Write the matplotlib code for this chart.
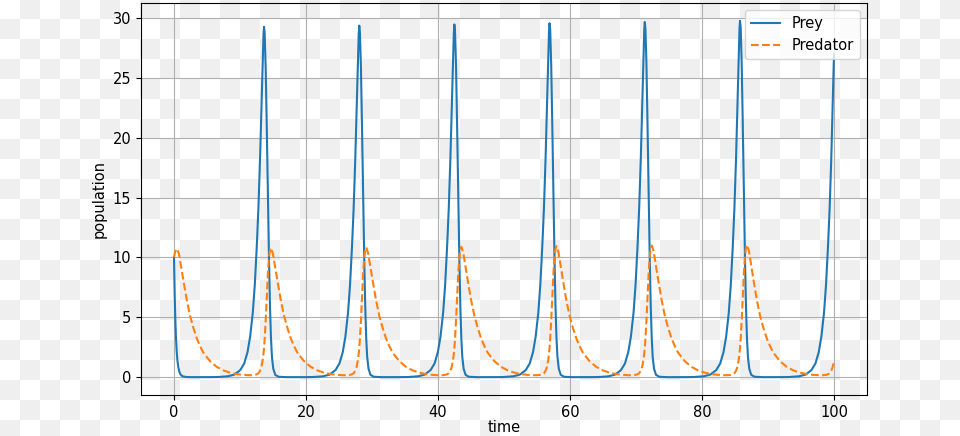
import numpy as np
import matplotlib
matplotlib.use("Agg")
import matplotlib.pyplot as plt

# values (prey / predator populations vs time)
prey_t = [
    0, 0.1, 0.2, 0.3, 0.4, 0.5, 0.65, 0.8, 1.0, 1.3, 1.8, 2.6, 4.0, 5.7,
    6.64, 8.14, 9.14, 10.04, 10.64, 11.14, 11.54, 11.94, 12.24, 12.54, 12.79, 13.04, 13.24, 13.44, 13.56,
    13.64, 13.74, 13.89, 14.04, 14.24, 14.39, 14.54, 14.69, 14.84, 15.04, 15.34, 15.84, 17.14, 18.64, 20.14,
    21.07, 22.57, 23.57, 24.47, 25.07, 25.57, 25.97, 26.37, 26.67, 26.97, 27.22, 27.47, 27.67, 27.87, 27.99,
    28.07, 28.17, 28.32, 28.47, 28.67, 28.82, 28.97, 29.12, 29.27, 29.47, 29.77, 30.27, 31.57, 33.07, 34.57,
    35.48, 36.98, 37.98, 38.88, 39.48, 39.98, 40.38, 40.78, 41.08, 41.38, 41.63, 41.88, 42.08, 42.28, 42.40,
    42.48, 42.58, 42.73, 42.88, 43.08, 43.23, 43.38, 43.53, 43.68, 43.88, 44.18, 44.68, 45.98, 47.48, 48.98,
    49.90, 51.40, 52.40, 53.30, 53.90, 54.40, 54.80, 55.20, 55.50, 55.80, 56.05, 56.30, 56.50, 56.70, 56.82,
    56.90, 57.00, 57.15, 57.30, 57.50, 57.65, 57.80, 57.95, 58.10, 58.30, 58.60, 59.10, 60.40, 61.90, 63.40,
    64.33, 65.83, 66.83, 67.73, 68.33, 68.83, 69.23, 69.63, 69.93, 70.23, 70.48, 70.73, 70.93, 71.13, 71.25,
    71.33, 71.43, 71.58, 71.73, 71.93, 72.08, 72.23, 72.38, 72.53, 72.73, 73.03, 73.53, 74.83, 76.33, 77.83,
    78.76, 80.26, 81.26, 82.16, 82.76, 83.26, 83.66, 84.06, 84.36, 84.66, 84.91, 85.16, 85.36, 85.56, 85.68,
    85.76, 85.86, 86.01, 86.16, 86.36, 86.51, 86.66, 86.81, 86.96, 87.16, 87.46, 87.96, 89.26, 90.76, 92.26,
    93.19, 94.69, 95.69, 96.59, 97.19, 97.69, 98.09, 98.49, 98.79, 99.09, 99.34, 99.59, 99.79, 100.0,
]
prey = [
    10.0, 7.0, 4.8, 3.3, 2.25, 1.5, 0.85, 0.48, 0.22, 0.08, 0.025, 0.008, 0.006, 0.012,
    0.02, 0.08, 0.22, 0.6, 1.15, 2.1, 3.4, 5.4, 7.7, 10.9, 14.1, 18.3, 22.3, 26.4, 28.6,
    29.25, 28.7, 25.8, 21.4, 14.8, 10.0, 6.0, 3.3, 1.7, 0.72, 0.2, 0.04, 0.008, 0.006, 0.012,
    0.02, 0.08, 0.22, 0.6, 1.15, 2.1, 3.4, 5.4, 7.7, 10.9, 14.1, 18.3, 22.3, 26.5, 28.7,
    29.35, 28.8, 25.9, 21.4, 14.8, 10.0, 6.0, 3.3, 1.7, 0.72, 0.2, 0.04, 0.008, 0.006, 0.012,
    0.02, 0.08, 0.22, 0.6, 1.15, 2.1, 3.4, 5.4, 7.7, 10.9, 14.1, 18.3, 22.3, 26.6, 28.8,
    29.45, 28.9, 26.0, 21.5, 14.8, 10.0, 6.0, 3.3, 1.7, 0.72, 0.2, 0.04, 0.008, 0.006, 0.012,
    0.02, 0.08, 0.22, 0.6, 1.15, 2.1, 3.4, 5.4, 7.7, 10.9, 14.1, 18.3, 22.4, 26.7, 28.9,
    29.55, 29.0, 26.1, 21.6, 14.9, 10.0, 6.0, 3.3, 1.7, 0.72, 0.2, 0.04, 0.008, 0.006, 0.012,
    0.02, 0.08, 0.22, 0.6, 1.15, 2.1, 3.4, 5.4, 7.7, 10.9, 14.1, 18.3, 22.4, 26.8, 29.0,
    29.65, 29.1, 26.2, 21.6, 14.9, 10.0, 6.0, 3.3, 1.7, 0.72, 0.2, 0.04, 0.008, 0.006, 0.012,
    0.02, 0.08, 0.22, 0.6, 1.15, 2.1, 3.4, 5.4, 7.7, 10.9, 14.1, 18.3, 22.5, 26.9, 29.1,
    29.75, 29.2, 26.3, 21.7, 15.0, 10.0, 6.0, 3.3, 1.7, 0.72, 0.2, 0.04, 0.008, 0.006, 0.012,
    0.02, 0.08, 0.22, 0.6, 1.15, 2.1, 3.4, 5.4, 7.7, 10.9, 14.1, 18.3, 22.5, 27.0,
]

pred_t = [
    0, 0.1, 0.2, 0.3, 0.45, 0.75, 1.05, 1.45, 1.95, 2.45, 2.95, 3.45, 3.95, 4.45,
    5.45, 6.45, 7.45, 8.45, 9.45, 10.45, 11.45,
    11.94, 12.24, 12.54, 12.79, 13.04, 13.24, 13.44, 13.56, 13.64, 13.74, 13.89, 14.04, 14.24, 14.39, 14.54,
    14.69, 14.99, 15.29, 15.69, 16.19, 16.69, 17.19, 17.69, 18.19, 18.69, 19.69, 20.69, 21.69, 22.69, 23.69, 24.69, 25.69,
    26.37, 26.67, 26.97, 27.22, 27.47, 27.67, 27.87, 27.99, 28.07, 28.17, 28.32, 28.47, 28.67, 28.82, 28.97,
    29.12, 29.42, 29.72, 30.12, 30.62, 31.12, 31.62, 32.12, 32.62, 33.12, 34.12, 35.12, 36.12, 37.12, 38.12, 39.12, 40.12,
    40.78, 41.08, 41.38, 41.63, 41.88, 42.08, 42.28, 42.40, 42.48, 42.58, 42.73, 42.88, 43.08, 43.23, 43.38,
    43.53, 43.83, 44.13, 44.53, 45.03, 45.53, 46.03, 46.53, 47.03, 47.53, 48.53, 49.53, 50.53, 51.53, 52.53, 53.53, 54.53,
    55.20, 55.50, 55.80, 56.05, 56.30, 56.50, 56.70, 56.82, 56.90, 57.00, 57.15, 57.30, 57.50, 57.65, 57.80,
    57.95, 58.25, 58.55, 58.95, 59.45, 59.95, 60.45, 60.95, 61.45, 61.95, 62.95, 63.95, 64.95, 65.95, 66.95, 67.95, 68.95,
    69.63, 69.93, 70.23, 70.48, 70.73, 70.93, 71.13, 71.25, 71.33, 71.43, 71.58, 71.73, 71.93, 72.08, 72.23,
    72.38, 72.68, 72.98, 73.38, 73.88, 74.38, 74.88, 75.38, 75.88, 76.38, 77.38, 78.38, 79.38, 80.38, 81.38, 82.38, 83.38,
    84.06, 84.36, 84.66, 84.91, 85.16, 85.36, 85.56, 85.68, 85.76, 85.86, 86.01, 86.16, 86.36, 86.51, 86.66,
    86.81, 87.11, 87.41, 87.81, 88.31, 88.81, 89.31, 89.81, 90.31, 90.81, 91.81, 92.81, 93.81, 94.81, 95.81, 96.81, 97.81,
    98.49, 98.79, 99.09, 99.34, 99.59, 99.79, 100.0,
]
predator = [
    10.0, 10.3, 10.5, 10.65, 10.72, 10.3, 9.3, 8.0, 6.4, 5.1, 4.1, 3.25, 2.6, 2.05,
    1.35, 0.88, 0.58, 0.39, 0.27, 0.2, 0.17,
    0.18, 0.2, 0.25, 0.33, 0.55, 0.85, 1.45, 2.0, 2.45, 3.2, 4.7, 6.5, 8.8, 10.0, 10.6,
    10.8, 10.3, 9.3, 8.0, 6.4, 5.1, 4.1, 3.25, 2.6, 2.05, 1.35, 0.88, 0.58, 0.39, 0.27, 0.2, 0.17,
    0.18, 0.2, 0.25, 0.33, 0.55, 0.85, 1.45, 2.0, 2.45, 3.2, 4.7, 6.5, 8.8, 10.0, 10.6,
    10.85, 10.35, 9.3, 8.0, 6.4, 5.1, 4.1, 3.25, 2.6, 2.05, 1.35, 0.88, 0.58, 0.39, 0.27, 0.2, 0.17,
    0.18, 0.2, 0.25, 0.33, 0.55, 0.85, 1.45, 2.0, 2.45, 3.2, 4.7, 6.5, 8.8, 10.0, 10.65,
    10.9, 10.4, 9.35, 8.0, 6.4, 5.1, 4.1, 3.25, 2.6, 2.05, 1.35, 0.88, 0.58, 0.39, 0.27, 0.2, 0.17,
    0.18, 0.2, 0.25, 0.33, 0.55, 0.85, 1.45, 2.0, 2.45, 3.2, 4.7, 6.5, 8.8, 10.05, 10.7,
    10.95, 10.45, 9.4, 8.05, 6.4, 5.1, 4.1, 3.25, 2.6, 2.05, 1.35, 0.88, 0.58, 0.39, 0.27, 0.2, 0.17,
    0.18, 0.2, 0.25, 0.33, 0.55, 0.85, 1.45, 2.0, 2.45, 3.2, 4.7, 6.5, 8.8, 10.05, 10.75,
    11.0, 10.5, 9.45, 8.05, 6.45, 5.1, 4.1, 3.25, 2.6, 2.05, 1.35, 0.88, 0.58, 0.39, 0.27, 0.2, 0.17,
    0.18, 0.2, 0.25, 0.33, 0.55, 0.85, 1.45, 2.0, 2.45, 3.2, 4.7, 6.5, 8.8, 10.1, 10.8,
    11.05, 10.55, 9.5, 8.1, 6.45, 5.1, 4.1, 3.25, 2.6, 2.05, 1.35, 0.88, 0.58, 0.39, 0.27, 0.2, 0.17,
    0.18, 0.2, 0.25, 0.33, 0.55, 0.85, 1.3,
]

W, H = 960, 436
plt.rcParams['font.size'] = 10.5

fig = plt.figure(figsize=(W / 100, H / 100), dpi=100)

# transparent-background checkerboard, 20 px squares
bg = fig.add_axes([0, 0, 1, 1], zorder=-10)
nrow, ncol = 22, 48
checker = (np.add.outer(np.arange(nrow), np.arange(ncol)) % 2).astype(float)
bg.imshow(checker, cmap='gray_r', vmin=0, vmax=1 / 0.065, interpolation='nearest',
          extent=(0, ncol * 20, nrow * 20, 0), aspect='auto')
bg.set_xlim(0, W)
bg.set_ylim(H, 0)
bg.axis('off')

ax = fig.add_axes([141 / W, 1 - 395 / H, (867 - 141) / W, (395 - 3) / H])
ax.set_facecolor('none')
ax.plot(prey_t, prey, '-', label='Prey')
ax.plot(pred_t, predator, '--', label='Predator')
ax.set_xlabel('time', labelpad=0.5)
ax.set_ylabel('population')
ax.grid(True)
ax.legend(loc='upper right')

fig.savefig('out.png', dpi=100)
